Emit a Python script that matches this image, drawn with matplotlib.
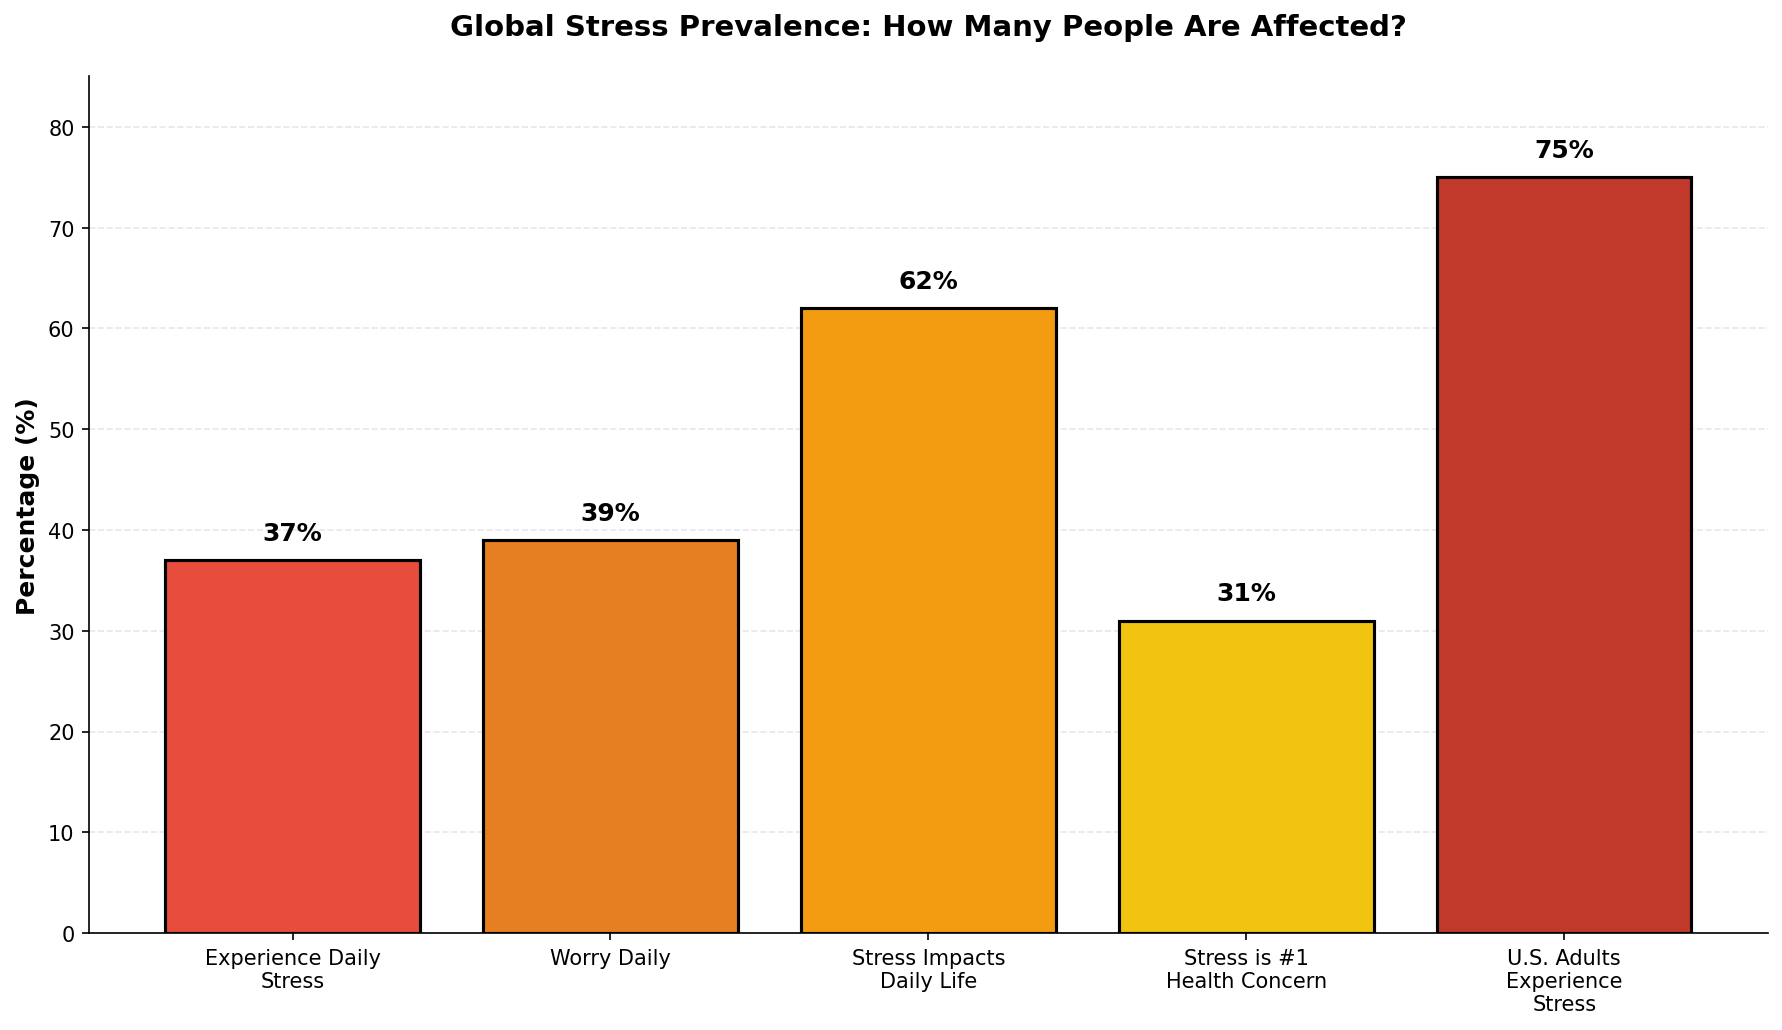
import matplotlib.pyplot as plt

categories = ['Experience Daily\nStress', 'Worry Daily', 'Stress Impacts\nDaily Life',
              'Stress is #1\nHealth Concern', 'U.S. Adults\nExperience\nStress']
values = [37, 39, 62, 31, 75]
colors = ['#e74c3c', '#e67e22', '#f39c12', '#f1c40f', '#c0392b']

fig = plt.figure(figsize=(11.88, 6.873), dpi=150)
ax = fig.add_axes([0.050, 0.094, 0.942, 0.831])

bars = ax.bar(categories, values, color=colors, edgecolor='black', linewidth=1.5, width=0.8)
for bar, v in zip(bars, values):
    ax.text(bar.get_x() + bar.get_width() / 2, v + 1.5, f'{v}%',
            ha='center', va='bottom', fontsize=12, fontweight='bold')

ax.set_ylim(0, 85)
ax.set_ylabel('Percentage (%)', fontsize=12, fontweight='bold')
ax.set_title('Global Stress Prevalence: How Many People Are Affected?',
             fontsize=14, fontweight='bold', pad=20)
ax.yaxis.grid(True, linestyle='--', alpha=0.3)
ax.set_axisbelow(True)
ax.spines['top'].set_visible(False)
ax.spines['right'].set_visible(False)
ax.tick_params(axis='both', labelsize=10)

fig.savefig('out.png', dpi=150)
